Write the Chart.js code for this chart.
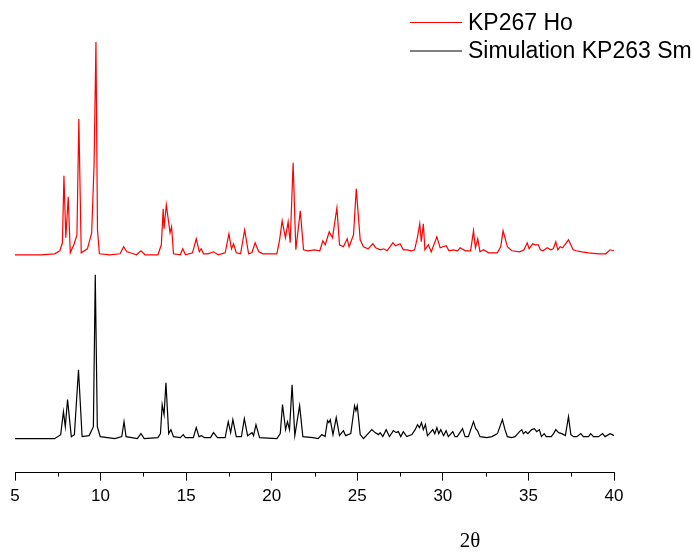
<!DOCTYPE html>
<html>
<head>
<meta charset="utf-8">
<script src="https://cdn.jsdelivr.net/npm/chart.js@4"></script>
<style>
  body { margin: 0; background: #fff; }
  #wrap { width: 693px; height: 553px; position: relative; }
</style>
</head>
<body>
<div id="wrap"><canvas id="xrdChart"></canvas></div>
<script>
// KP267 Ho (measured), 2theta and intensity
const redX = [5.0, 6.51, 7.31, 7.62, 7.77, 7.86, 7.97, 8.11, 8.23, 8.46, 8.62, 8.73, 8.87, 9.23, 9.48, 9.62, 9.73, 9.82, 9.93, 10.54,
  11.14, 11.35, 11.54, 11.73, 12.1, 12.36, 12.6, 13.35, 13.55, 13.66, 13.71, 13.84, 14.06, 14.15, 14.26, 14.66, 14.8, 14.96, 15.37, 15.59,
  15.77, 15.88, 16.02, 16.27, 16.6, 16.88, 17.28, 17.5, 17.65, 17.77, 17.93, 18.18, 18.42, 18.65, 18.84, 19.03, 19.24, 19.49, 20.3, 20.46,
  20.61, 20.8, 20.96, 21.08, 21.25, 21.41, 21.67, 21.86, 22.11, 22.51, 22.81, 22.99, 23.13, 23.36, 23.55, 23.81, 23.96, 24.19, 24.41, 24.52,
  24.78, 24.94, 25.17, 25.36, 25.63, 25.91, 26.08, 26.34, 26.54, 26.74, 27.08, 27.24, 27.5, 27.69, 27.9, 28.15, 28.35, 28.52, 28.65, 28.74,
  28.86, 28.95, 29.15, 29.32, 29.65, 29.84, 30.19, 30.36, 30.61, 30.86, 31.01, 31.32, 31.62, 31.79, 31.9, 32.04, 32.17, 32.37, 32.68, 33.18,
  33.38, 33.52, 33.77, 34.03, 34.49, 34.74, 34.93, 35.04, 35.25, 35.39, 35.58, 35.7, 35.85, 36.1, 36.3, 36.45, 36.6, 36.72, 36.85, 37.0,
  37.34, 37.61, 37.81, 38.11, 38.51, 39.12, 39.52, 39.77, 40.0];
const redY = [0, 0, 1, 4, 12, 79, 17, 58, 2, 11, 20, 136, 2, 6, 22, 90, 213, 25, 1, 0,
  1, 8, 3, 2, 0, 4, 0, 0, 10, 46, 26, 50, 22, 28, 1, 0, 6, 0, 2, 16,
  3, 6, 1, 1, 3, 0, 2, 21, 6, 11, 2, 1, 25, 1, 2, 12, 3, 1, 1, 15,
  34, 17, 33, 12, 92, 5, 44, 5, 4, 5, 4, 14, 10, 23, 17, 47, 10, 8, 16, 8,
  20, 66, 15, 8, 6, 11, 7, 5, 6, 4, 12, 9, 11, 5, 5, 4, 5, 18, 31, 13,
  31, 5, 10, 3, 18, 7, 9, 4, 5, 4, 7, 4, 4, 24, 7, 16, 3, 5, 2, 2,
  8, 24, 8, 4, 3, 5, 12, 6, 11, 10, 10, 5, 4, 7, 5, 6, 13, 5, 8, 7,
  15, 5, 4, 3, 2, 1, 1, 5, 4];

// Simulation KP263 Sm
const blackX = [5.0, 7.31, 7.67, 7.83, 7.94, 8.07, 8.29, 8.47, 8.71, 8.92, 9.33, 9.58, 9.69, 9.81, 9.98, 10.84, 11.24, 11.37, 11.49, 12.15,
  12.36, 12.55, 13.35, 13.5, 13.6, 13.71, 13.82, 13.98, 14.11, 14.26, 14.66, 14.83, 14.96, 15.42, 15.59, 15.75, 15.9, 16.07, 16.42, 16.6,
  16.83, 17.28, 17.46, 17.6, 17.73, 17.93, 18.23, 18.4, 18.59, 18.85, 18.94, 19.08, 19.29, 20.3, 20.5, 20.63, 20.81, 20.92, 21.04, 21.19,
  21.35, 21.63, 21.82, 22.41, 22.71, 22.93, 23.12, 23.26, 23.34, 23.42, 23.58, 23.77, 23.96, 24.19, 24.32, 24.62, 24.84, 24.92, 25.0, 25.17,
  25.36, 25.85, 26.04, 26.24, 26.34, 26.49, 26.69, 26.88, 27.11, 27.27, 27.4, 27.54, 27.69, 27.89, 28.19, 28.38, 28.52, 28.63, 28.75, 28.86,
  28.98, 29.1, 29.21, 29.41, 29.53, 29.65, 29.76, 29.88, 30.04, 30.19, 30.32, 30.58, 30.71, 30.84, 31.15, 31.3, 31.49, 31.79, 31.92, 32.02,
  32.17, 32.57, 32.86, 33.19, 33.48, 33.63, 33.77, 34.02, 34.22, 34.48, 34.61, 34.71, 34.84, 34.96, 35.19, 35.35, 35.48, 35.64, 35.76, 35.92,
  36.04, 36.33, 36.47, 36.6, 36.76, 36.95, 37.16, 37.34, 37.48, 37.64, 37.83, 38.06, 38.21, 38.51, 38.64, 38.8, 39.1, 39.33, 39.48, 39.77,
  39.9, 40.0];
const blackY = [0, 0, 4, 27, 12, 39, 2, 4, 69, 2, 3, 12, 164, 12, 2, 0, 2, 17, 2, 0,
  5, 0, 1, 5, 34, 24, 56, 5, 9, 2, 1, 4, 1, 1, 11, 2, 3, 1, 1, 6,
  1, 1, 17, 6, 19, 2, 2, 20, 3, 6, 3, 14, 1, 0, 5, 34, 9, 17, 9, 54,
  3, 33, 2, 1, 0, 4, 2, 18, 16, 19, 4, 21, 3, 8, 3, 5, 33, 28, 33, 4,
  0, 9, 6, 4, 6, 2, 9, 2, 8, 6, 7, 2, 7, 2, 4, 9, 14, 11, 16, 9,
  14, 3, 5, 9, 5, 11, 5, 9, 3, 8, 2, 7, 2, 2, 10, 2, 2, 17, 10, 8,
  2, 1, 2, 5, 19, 9, 2, 1, 2, 7, 9, 5, 7, 5, 9, 10, 7, 9, 2, 5,
  2, 2, 5, 9, 6, 5, 3, 22, 4, 2, 2, 5, 2, 2, 5, 2, 2, 5, 2, 5,
  4, 3];

const seriesNames = ['KP267 Ho', 'Simulation KP263 Sm'];
const redOffset = 184;
const majorTicks = [5, 10, 15, 20, 25, 30, 35, 40];
const minorTicks = [7.5, 12.5, 17.5, 22.5, 27.5, 32.5, 37.5];

const toPoints = (xs, ys, off) => xs.map((x, i) => ({ x: x, y: ys[i] + off }));

const extras = {
  id: 'extras',
  afterDraw(chart) {
    const ctx = chart.ctx;
    const xs = chart.scales.x;
    const bottom = chart.chartArea.bottom;
    ctx.save();
    // minor ticks
    ctx.strokeStyle = '#000';
    ctx.lineWidth = 1;
    minorTicks.forEach(v => {
      const px = Math.round(xs.getPixelForValue(v)) + 0.5;
      ctx.beginPath();
      ctx.moveTo(px, bottom);
      ctx.lineTo(px, bottom + 4);
      ctx.stroke();
    });
    // legend
    ctx.font = '23px "Liberation Sans", Arial, sans-serif';
    ctx.textBaseline = 'middle';
    chart.data.datasets.forEach((ds, i) => {
      const y = 22.5 + i * 28.5;
      ctx.strokeStyle = ds.borderColor;
      ctx.beginPath();
      ctx.moveTo(410, y);
      ctx.lineTo(462, y);
      ctx.stroke();
      ctx.fillStyle = '#000';
      ctx.fillText(ds.label, 468, y + 1);
    });
    // axis title
    ctx.font = '21px "Liberation Serif", "Times New Roman", serif';
    ctx.textAlign = 'center';
    ctx.fillText('2\u03b8', 470, 541);
    ctx.restore();
  }
};

new Chart(document.getElementById('xrdChart'), {
  type: 'line',
  data: {
    datasets: [{
      label: seriesNames[0],
      data: toPoints(redX, redY, redOffset),
      borderColor: '#ff0000',
      borderWidth: 1.2,
      pointRadius: 0,
      tension: 0
    }, {
      label: seriesNames[1],
      data: toPoints(blackX, blackY, 0),
      borderColor: '#000000',
      borderWidth: 1.2,
      pointRadius: 0,
      tension: 0
    }]
  },
  options: {
    responsive: true,
    maintainAspectRatio: false,
    animation: false,
    layout: { padding: { left: 15, right: 79, top: 8, bottom: 40 } },
    plugins: { legend: { display: false }, tooltip: { enabled: false } },
    scales: {
      x: {
        type: 'linear',
        min: 5,
        max: 40,
        afterBuildTicks: s => { s.ticks = majorTicks.map(v => ({ value: v })); },
        border: { color: '#000', width: 1 },
        grid: { drawOnChartArea: false, tickLength: 8, color: '#000' },
        ticks: {
          color: '#000',
          padding: 6,
          maxRotation: 0,
          font: { family: '"Liberation Sans", Arial, sans-serif', size: 17 }
        }
      },
      y: { display: false, min: -34, max: 431 }
    }
  },
  plugins: [extras]
});
</script>
</body>
</html>
